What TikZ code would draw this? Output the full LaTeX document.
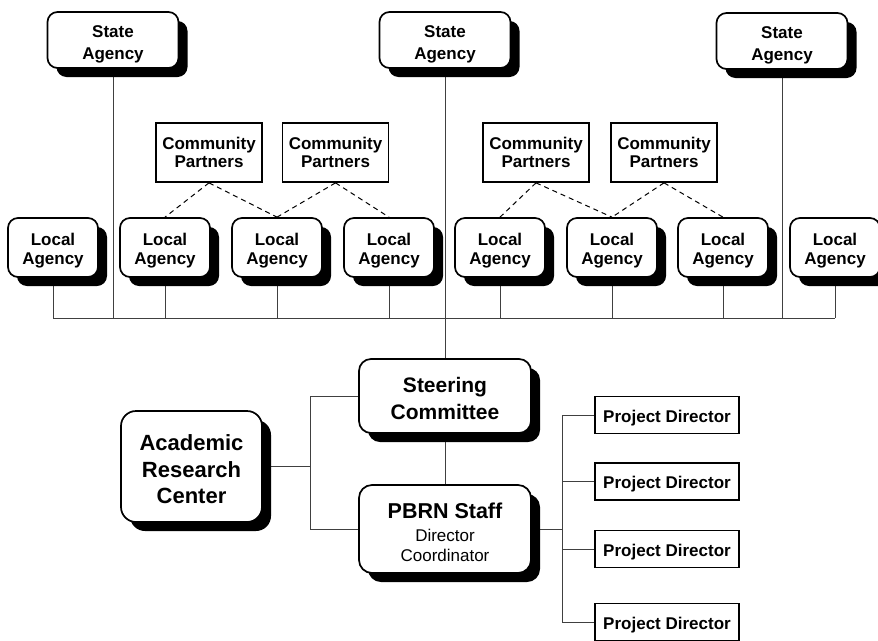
\documentclass[tikz,border=0pt]{standalone}
\usepackage{fontspec}
\setmainfont{Liberation Sans}
\usetikzlibrary{shadows,backgrounds}
\newcommand\padtop[1]{\rule{0pt}{#1}}
\begin{document}
\begin{tikzpicture}[x=1pt,y=-1pt,
  rbox/.style={draw,line width=1.7pt,fill=white,rounded corners=10pt,inner sep=0pt,align=center,
    drop shadow={shadow xshift=9pt,shadow yshift=-9pt,opacity=1,fill=black}},
  stbox/.style={rbox,minimum width=131pt,minimum height=56pt,font=\fontsize{17}{21.5}\selectfont\bfseries},
  lobox/.style={rbox,minimum width=90pt,minimum height=59pt,font=\fontsize{17}{19}\selectfont\bfseries},
  cpbox/.style={draw,line width=1.7pt,fill=white,inner sep=0pt,align=center,minimum width=106pt,minimum height=59pt,font=\fontsize{17}{18.5}\selectfont\bfseries},
  pdbox/.style={draw,line width=1.7pt,fill=white,inner sep=0pt,align=center,minimum width=144pt,minimum height=37pt,font=\fontsize{17}{19}\selectfont\bfseries},
  conn/.style={draw=black!75,line width=0.9pt},
  dconn/.style={draw=black,line width=1pt,dash pattern=on 5pt off 4pt},
]
\useasboundingbox (0,0) rectangle (878,640);
% State agencies
\node[stbox] (S1) at (113,40) {\padtop{21pt}State\\Agency};
\node[stbox] (S2) at (445,40) {\padtop{21pt}State\\Agency};
\node[stbox] (S3) at (782,41) {\padtop{21pt}State\\Agency};
% Community partners
\node[cpbox] (C1) at (209,152.5) {Community\\Partners};
\node[cpbox] (C2) at (335.5,152.5) {Community\\Partners};
\node[cpbox] (C3) at (536,152.5) {Community\\Partners};
\node[cpbox] (C4) at (664,152.5) {Community\\Partners};
% Local agencies
\foreach \i/\x in {1/53,2/165,3/277,4/389,5/500,6/612,7/723,8/835}
  \node[lobox] (L\i) at (\x,247.5) {\padtop{18.5pt}Local\\Agency};
% Central
\node[rbox,rounded corners=12pt,minimum width=172pt,minimum height=74pt,font=\fontsize{21}{26.5}\selectfont\bfseries] (SC) at (445,396) {\padtop{20.5pt}Steering\\Committee};
\node[rbox,rounded corners=15pt,minimum width=141pt,minimum height=111pt,font=\fontsize{22}{26.5}\selectfont\bfseries] (ARC) at (191.5,466.5) {\padtop{21.5pt}Academic\\Research\\Center};
\node[rbox,rounded corners=13pt,minimum width=172pt,minimum height=88pt,font=\fontsize{17}{20}\selectfont] (PB) at (445,529)
  {\padtop{21.5pt}{\fontsize{21.5}{24}\selectfont\bfseries PBRN Staff}\\[3pt]Director\\Coordinator};
% Project directors
\node[pdbox] (P1) at (667,415) {\padtop{18.5pt}Project Director};
\node[pdbox] (P2) at (667,481.5) {\padtop{18.5pt}Project Director};
\node[pdbox] (P3) at (667,549) {\padtop{18.5pt}Project Director};
\node[pdbox] (P4) at (667,622) {\padtop{18.5pt}Project Director};
% junction coordinates
\coordinate (bus) at (0,318);
\coordinate (j) at (310,466.5);
\coordinate (k) at (562,529);
\begin{pgfonlayer}{background}
  \path[conn] (L1|-bus) -- (L8|-bus);
  \foreach \i in {1,...,8} \path[conn] (L\i) -- (L\i|-bus);
  \path[conn] (S1) -- (S1|-bus);
  \path[conn] (S3) -- (S3|-bus);
  \path[conn] (S2) -- (SC);
  \path[conn] (SC) -- (PB);
  \path[conn] (ARC) -- (j);
  \path[conn] (SC) -| (j);
  \path[conn] (PB) -| (j);
  \path[conn] (PB) -- (k);
  \foreach \i in {1,...,4} \path[conn] (P\i) -| (k);
\end{pgfonlayer}
% dashed links
\draw[dconn] (C1.south) -- (L2.north);
\draw[dconn] (C1.south) -- (L3.north);
\draw[dconn] (C2.south) -- (L3.north);
\draw[dconn] (C2.south) -- (L4.north);
\draw[dconn] (C3.south) -- (L5.north);
\draw[dconn] (C3.south) -- (L6.north);
\draw[dconn] (C4.south) -- (L6.north);
\draw[dconn] (C4.south) -- (L7.north);
\end{tikzpicture}
\end{document}
